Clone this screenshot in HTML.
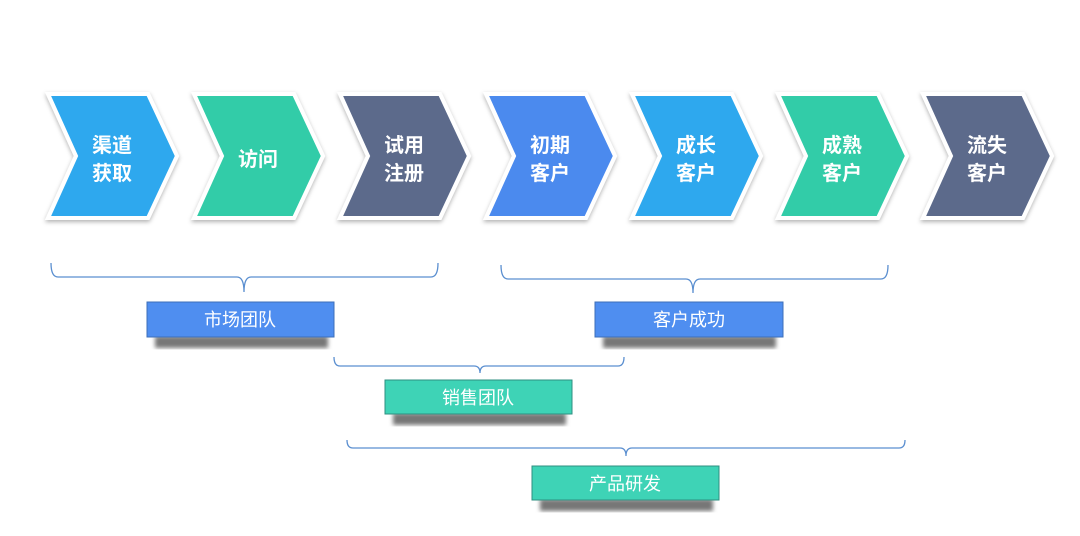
<!DOCTYPE html>
<html><head><meta charset="utf-8"><style>
body{margin:0;background:#fff;width:1080px;height:536px;overflow:hidden}
svg{display:block}
text{font-family:"Liberation Sans","Noto Sans CJK SC",sans-serif}
</style></head><body>
<svg width="1080" height="536" viewBox="0 0 1080 536">
<defs>
<filter id="sh" x="-20%" y="-20%" width="140%" height="140%"><feDropShadow dx="0" dy="2" stdDeviation="2" flood-color="#000" flood-opacity="0.3"/></filter>
<filter id="bl"><feGaussianBlur stdDeviation="2"/></filter>
</defs>
<g font-size="20" font-weight="bold" fill="#fff" text-anchor="middle">
<g transform="translate(46,0)"><polygon points="2,94 102,94 131,156 102,218 2,218 30,156" fill="#2ea8ee" stroke="#fff" stroke-width="4" filter="url(#sh)"/><text x="66" y="152" fill="#fff">渠道</text><text x="66" y="180" fill="#fff">获取</text></g>
<g transform="translate(192,0)"><polygon points="2,94 102,94 131,156 102,218 2,218 30,156" fill="#30cca8" stroke="#fff" stroke-width="4" filter="url(#sh)"/><text x="66" y="166" fill="#fff">访问</text></g>
<g transform="translate(338,0)"><polygon points="2,94 102,94 131,156 102,218 2,218 30,156" fill="#5b6a8b" stroke="#fff" stroke-width="4" filter="url(#sh)"/><text x="66" y="152" fill="#fff">试用</text><text x="66" y="180" fill="#fff">注册</text></g>
<g transform="translate(484,0)"><polygon points="2,94 102,94 131,156 102,218 2,218 30,156" fill="#4c8aee" stroke="#fff" stroke-width="4" filter="url(#sh)"/><text x="66" y="152" fill="#fff">初期</text><text x="66" y="180" fill="#fff">客户</text></g>
<g transform="translate(630,0)"><polygon points="2,94 102,94 131,156 102,218 2,218 30,156" fill="#2ea8ee" stroke="#fff" stroke-width="4" filter="url(#sh)"/><text x="66" y="152" fill="#fff">成长</text><text x="66" y="180" fill="#fff">客户</text></g>
<g transform="translate(776,0)"><polygon points="2,94 102,94 131,156 102,218 2,218 30,156" fill="#30cca8" stroke="#fff" stroke-width="4" filter="url(#sh)"/><text x="66" y="152" fill="#fff">成熟</text><text x="66" y="180" fill="#fff">客户</text></g>
<g transform="translate(921,0)"><polygon points="2,94 102,94 131,156 102,218 2,218 30,156" fill="#5b6a8b" stroke="#fff" stroke-width="4" filter="url(#sh)"/><text x="66" y="152" fill="#fff">流失</text><text x="66" y="180" fill="#fff">客户</text></g>
</g>
<g fill="none" stroke="#5b8fd0" stroke-width="1.3">
<path d="M51,263 Q51,277 58,277 L237,277 Q244,277 244,292 Q244,277 251,277 L431,277 Q438,277 438,263"/>
<path d="M501,265 Q501,279 508,279 L686,279 Q693,279 693,293 Q693,279 700,279 L881,279 Q888,279 888,265"/>
<path d="M334,357 Q334,366 340,366 L474,366 Q480,366 480,373 Q480,366 486,366 L618,366 Q624,366 624,357"/>
<path d="M347,440 Q347,448 353,448 L620,448 Q626,448 626,456 Q626,448 632,448 L899,448 Q905,448 905,440"/>
</g>
<g font-size="18" fill="#fff" text-anchor="middle">
<rect x="155" y="336" width="173" height="12" fill="#777" filter="url(#bl)"/>
<rect x="147" y="302" width="187" height="35" fill="#4f8ef0" stroke="#3e6fb8" stroke-width="1"/>
<text x="240" y="326">市场团队</text>
<rect x="603" y="336" width="173" height="12" fill="#777" filter="url(#bl)"/>
<rect x="595" y="302" width="188" height="35" fill="#4f8ef0" stroke="#3e6fb8" stroke-width="1"/>
<text x="689" y="326">客户成功</text>
<rect x="393" y="413" width="173" height="12" fill="#777" filter="url(#bl)"/>
<rect x="385" y="380" width="187" height="34" fill="#3ed3b6" stroke="#2f8f80" stroke-width="1"/>
<text x="478" y="404">销售团队</text>
<rect x="540" y="499" width="173" height="12" fill="#777" filter="url(#bl)"/>
<rect x="532" y="466" width="187" height="34" fill="#3ed3b6" stroke="#2f8f80" stroke-width="1"/>
<text x="625" y="490">产品研发</text>
</g>
</svg>
</body></html>
